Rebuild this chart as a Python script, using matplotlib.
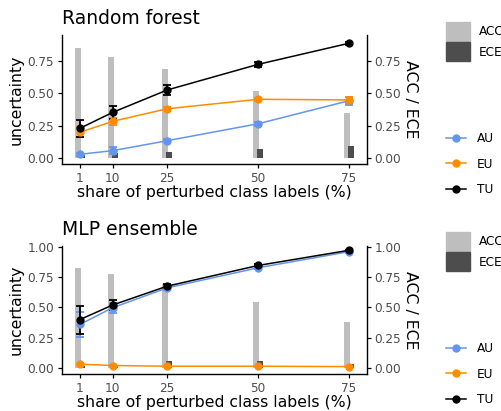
import matplotlib
matplotlib.use("Agg")
import matplotlib.pyplot as plt
from matplotlib.patches import Patch
from matplotlib.lines import Line2D

plt.rcParams['font.family'] = ['DejaVu Sans']

# share of perturbed class labels (%)
shares = [1, 10, 25, 50, 75]
share_labels = ['1', '10', '25', '50', '75']

# Random forest
rf_acc = [0.848, 0.783, 0.686, 0.52, 0.35]
rf_ece = [0.02, 0.036, 0.049, 0.067, 0.093]
rf_au = [0.029, 0.057, 0.134, 0.265, 0.443]
rf_au_err = [0.012, 0.025, 0.012, 0.015, 0.03]
rf_eu = [0.199, 0.284, 0.381, 0.454, 0.449]
rf_eu_err = [0.04, 0.025, 0.012, 0.01, 0.02]
rf_tu = [0.23, 0.353, 0.526, 0.724, 0.887]
rf_tu_err = [0.064, 0.051, 0.037, 0.02, 0.012]

# MLP ensemble
mlp_acc = [0.826, 0.777, 0.694, 0.545, 0.38]
mlp_ece = [0.02, 0.03, 0.06, 0.055, 0.035]
mlp_au = [0.36, 0.498, 0.661, 0.826, 0.959]
mlp_au_err = [0.1, 0.04, 0.015, 0.012, 0.008]
mlp_eu = [0.033, 0.022, 0.016, 0.016, 0.013]
mlp_eu_err = [0.004, 0.003, 0.002, 0.002, 0.002]
mlp_tu = [0.40, 0.52, 0.675, 0.845, 0.97]
mlp_tu_err = [0.115, 0.04, 0.015, 0.01, 0.006]

c_au = '#6495ED'
c_eu = '#FF8C00'
c_tu = 'black'
c_acc = '#BEBEBE'
c_ece = '#4D4D4D'
tick_col = '#4D4D4D'

fig = plt.figure(figsize=(5.02, 4.11), dpi=100)


def panel(rect, title, acc, ece, series, ylim, yticks):
    ax = fig.add_axes(rect)
    w = 1.6
    ax.bar([s - 0.55 for s in shares], acc, width=w, color=c_acc, zorder=1)
    ax.bar([s + 0.55 for s in shares], ece, width=w, color=c_ece, zorder=1)
    for vals, errs, col in series:
        ax.errorbar(shares, vals, yerr=errs, color=col, lw=1.1, marker='o',
                    ms=5, capsize=2.6, elinewidth=1.3, capthick=1.3, zorder=3)
    ax.set_xlim(-3.95, 79.95)
    ax.set_ylim(*ylim)
    ax.set_xticks(shares)
    ax.set_xticklabels(share_labels)
    ax.set_yticks(yticks)
    ax.set_yticklabels(['%.2f' % t for t in yticks])
    ax.spines['top'].set_visible(False)
    ax.spines['right'].set_visible(False)
    for sp in ['left', 'bottom']:
        ax.spines[sp].set_linewidth(1.0)
    ax.tick_params(length=3, width=0.9, pad=2.5, labelsize=8.7, labelcolor=tick_col)
    ax.set_xlabel('share of perturbed class labels (%)', fontsize=11.3, labelpad=0)
    ax.set_ylabel('uncertainty', fontsize=11.3, labelpad=3)
    ax.set_title(title, fontsize=13.5, loc='left', pad=8)

    ax2 = ax.twinx()
    ax2.set_ylim(*ylim)
    ax2.set_yticks(yticks)
    ax2.set_yticklabels(['%.2f' % t for t in yticks])
    ax2.spines['top'].set_visible(False)
    ax2.spines['left'].set_visible(False)
    ax2.spines['bottom'].set_visible(False)
    ax2.spines['right'].set_linewidth(1.0)
    ax2.tick_params(length=3, width=0.9, pad=2.5, labelsize=8.7, labelcolor=tick_col)
    ax2.set_ylabel('ACC / ECE', fontsize=11.3, rotation=270, labelpad=12)
    return ax


ax1 = panel([0.1235, 0.601, 0.6076, 0.3139], 'Random forest', rf_acc, rf_ece,
            [(rf_au, rf_au_err, c_au), (rf_eu, rf_eu_err, c_eu), (rf_tu, rf_tu_err, c_tu)],
            (-0.046, 0.951), [0.0, 0.25, 0.5, 0.75])
ax2 = panel([0.1235, 0.09, 0.6076, 0.3114], 'MLP ensemble', mlp_acc, mlp_ece,
            [(mlp_au, mlp_au_err, c_au), (mlp_eu, mlp_eu_err, c_eu), (mlp_tu, mlp_tu_err, c_tu)],
            (-0.048, 1.005), [0.0, 0.25, 0.5, 0.75, 1.0])

bar_handles = [Patch(color=c_acc), Patch(color=c_ece)]
line_handles = [Line2D([], [], color=c, marker='o', ms=5, lw=1.1) for c in (c_au, c_eu, c_tu)]

for top_bar, top_line in [(22, 132), (232, 342)]:
    fig.legend(bar_handles, ['ACC', 'ECE'], loc='upper left',
               bbox_to_anchor=(446 / 502, 1 - top_bar / 411), frameon=False,
               fontsize=8.7, handlelength=2.0, handleheight=2.0, labelspacing=0.15,
               handletextpad=0.75, borderpad=0, borderaxespad=0)
    fig.legend(line_handles, ['AU', 'EU', 'TU'], loc='upper left',
               bbox_to_anchor=(446 / 502, 1 - top_line / 411), frameon=False,
               fontsize=8.7, handlelength=1.65, labelspacing=1.05,
               handletextpad=0.9, borderpad=0, borderaxespad=0)

fig.savefig('out.png', dpi=100)
